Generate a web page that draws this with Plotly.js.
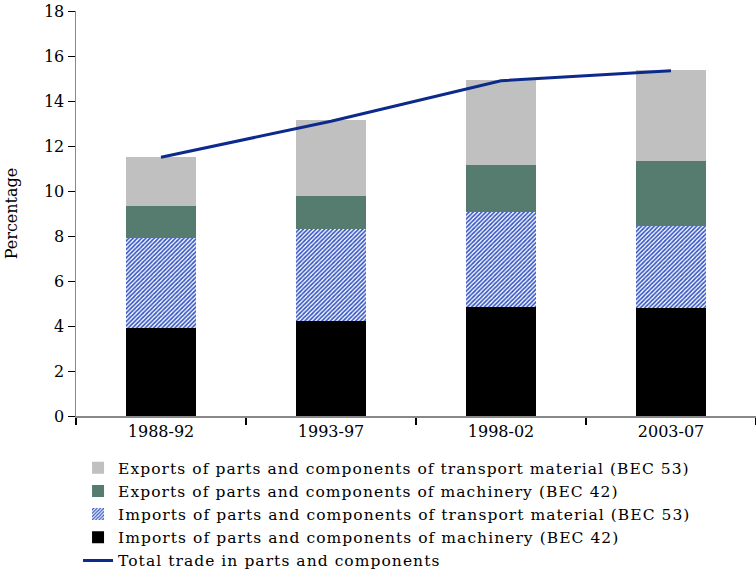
<!DOCTYPE html>
<html>
<head>
<meta charset="utf-8">
<script src="https://cdn.plot.ly/plotly-3.0.1.min.js"></script>
<style>
html,body{margin:0;padding:0;background:#fff;}
#chart{width:756px;height:569px;}
text.legendtext{letter-spacing:1.05px;}
</style>
</head>
<body>
<div id="chart"></div>
<script>
const periods = ["1988-92", "1993-97", "1998-02", "2003-07"];
const importsMachinery = [3.91, 4.22, 4.84, 4.80];
const importsTransport = [4.00, 4.09, 4.22, 3.64];
const exportsMachinery = [1.42, 1.47, 2.09, 2.89];
const exportsTransport = [2.18, 3.38, 3.78, 4.05];
const totalTrade = [11.5, 13.1, 14.9, 15.35];

const names = {
  eT: "Exports of parts and components of transport material (BEC 53)",
  eM: "Exports of parts and components of machinery (BEC 42)",
  iT: "Imports of parts and components of transport material (BEC 53)",
  iM: "Imports of parts and components of machinery (BEC 42)",
  tot: "Total trade in parts and components"
};

const serif = "DejaVu Serif, Liberation Serif, serif";
const bw = 0.41;

const data = [
  {type: "bar", x: periods, y: importsMachinery, name: names.iM, width: bw,
   marker: {color: "#000000", line: {width: 0}}, legendrank: 4},
  {type: "bar", x: periods, y: importsTransport, name: names.iT, width: bw,
   marker: {color: "#ffffff", line: {width: 0},
            pattern: {shape: "/", fgcolor: "#3556c4", bgcolor: "#ffffff", size: 3, solidity: 0.55}},
   legendrank: 3},
  {type: "bar", x: periods, y: exportsMachinery, name: names.eM, width: bw,
   marker: {color: "#567c70", line: {width: 0}}, legendrank: 2},
  {type: "bar", x: periods, y: exportsTransport, name: names.eT, width: bw,
   marker: {color: "#c0c0c0", line: {width: 0}}, legendrank: 1},
  {type: "scatter", mode: "lines", x: periods, y: totalTrade, name: names.tot,
   line: {color: "#0c2a8c", width: 3}, legendrank: 5}
];

const layout = {
  width: 756, height: 569,
  margin: {l: 76, r: 0, t: 11, b: 153, autoexpand: false},
  paper_bgcolor: "#ffffff", plot_bgcolor: "#ffffff",
  barmode: "stack",
  font: {family: serif, size: 16, color: "#000000"},
  showlegend: true,
  legend: {x: 0.003, xanchor: "left", y: -0.087, yanchor: "top",
           traceorder: "normal", font: {family: serif, size: 15.5, color: "#000"},
           bgcolor: "rgba(0,0,0,0)", tracegroupgap: 0},
  xaxis: {type: "category", showline: true, linecolor: "#888888", linewidth: 1.5,
          ticks: "outside", tickson: "boundaries", ticklen: 7, tickcolor: "#000000", tickwidth: 1.5,
          showgrid: false, zeroline: false, tickfont: {family: serif, size: 16},
          range: [-0.5, 3.5]},
  yaxis: {range: [0, 18], dtick: 2, tick0: 0, showline: true, linecolor: "#888888", linewidth: 1.5,
          ticks: "outside", ticklen: 7, tickcolor: "#000000", tickwidth: 1,
          showgrid: false, zeroline: false, tickfont: {family: serif, size: 16},
          title: {text: "Percentage", font: {family: serif, size: 16}, standoff: 22}}
};

Plotly.newPlot("chart", data, layout, {displayModeBar: false, staticPlot: true});
</script>
</body>
</html>
